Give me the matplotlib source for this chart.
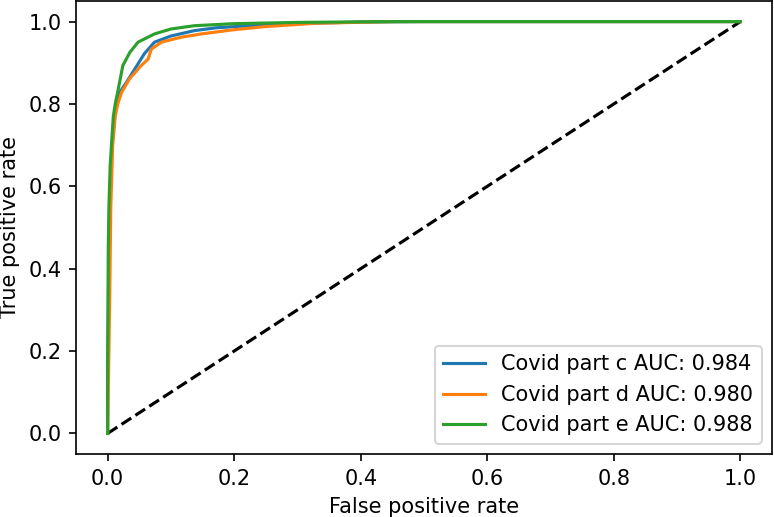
import matplotlib
matplotlib.use("Agg")
import matplotlib.pyplot as plt

# ROC curve points
fpr_c = [0, 0, 0.002, 0.004, 0.007, 0.012, 0.02, 0.03, 0.043, 0.058, 0.074, 0.10, 0.137, 0.172, 0.224, 0.27, 0.4, 0.5, 1]
tpr_c = [0, 0.1, 0.45, 0.6, 0.7, 0.78, 0.83, 0.853, 0.885, 0.922, 0.95, 0.965, 0.978, 0.985, 0.99, 0.994, 0.999, 1, 1]

fpr_d = [0, 0.001, 0.003, 0.005, 0.008, 0.012, 0.016, 0.022, 0.035, 0.053, 0.064, 0.069, 0.085, 0.116, 0.148, 0.198, 0.25, 0.33, 0.45, 1]
tpr_d = [0, 0.1, 0.3, 0.55, 0.7, 0.77, 0.8, 0.828, 0.862, 0.893, 0.909, 0.933, 0.95, 0.962, 0.97, 0.98, 0.988, 0.996, 1, 1]

fpr_e = [0, 0, 0.001, 0.002, 0.004, 0.006, 0.009, 0.012, 0.016, 0.024, 0.035, 0.048, 0.074, 0.10, 0.137, 0.2, 0.3, 0.45, 1]
tpr_e = [0, 0.15, 0.45, 0.55, 0.65, 0.70, 0.77, 0.80, 0.83, 0.893, 0.925, 0.95, 0.97, 0.982, 0.99, 0.995, 0.998, 1, 1]

labels = ["Covid part c AUC: 0.984", "Covid part d AUC: 0.980", "Covid part e AUC: 0.988"]

dpi = 150
fig = plt.figure(figsize=(774 / dpi, 517 / dpi), dpi=dpi)
ax = fig.add_axes([76 / 774, 63 / 517, 696 / 774, 453 / 517])

ax.plot([0, 1], [0, 1], "k--")
ax.plot(fpr_c, tpr_c, label=labels[0])
ax.plot(fpr_d, tpr_d, label=labels[1])
ax.plot(fpr_e, tpr_e, label=labels[2])

ax.set_xlabel("False positive rate")
ax.set_ylabel("True positive rate")
ax.legend(loc="lower right")

fig.savefig("out.png", dpi=dpi)
